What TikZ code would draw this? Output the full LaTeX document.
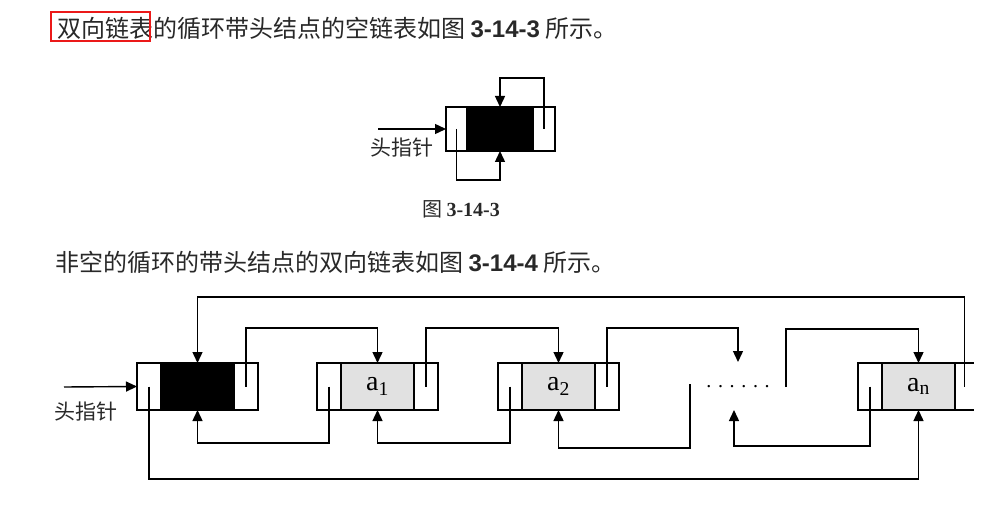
\documentclass[tikz,border=0pt]{standalone}
\usepackage{fontspec}
\setmainfont{Liberation Serif}
\setsansfont{Liberation Sans}
\newfontfamily\cjk{Noto Sans CJK SC}
\usepackage{tikz}
\usetikzlibrary{arrows.meta,positioning}
\definecolor{gray1}{RGB}{225,225,225}
\definecolor{red1}{RGB}{235,25,25}
\definecolor{ink1}{RGB}{40,40,40}
\tikzset{
  cell/.style={draw, line width=1.5pt, minimum width=24pt, minimum height=47pt, inner sep=0pt, outer sep=0pt},
  datacell/.style={cell, fill=gray1, minimum width=73pt, font=\fontsize{28}{28}\selectfont},
  headcell/.style={cell, fill=black, minimum width=73pt},
  ptr/.style={line width=1.4pt, -{Triangle[length=11pt,width=10pt]}},
  cnlabel/.style={font=\cjk\fontsize{21}{21}\selectfont, inner sep=0pt, text=ink1},
  cntext/.style={font=\cjk\fontsize{24}{24}\selectfont, inner sep=0pt, text=ink1},
}

\begin{document}
\begin{tikzpicture}[x=1pt,y=-1pt]
    \useasboundingbox (0,0) rectangle (1006,505);
    % Text lines
    \node[cntext, anchor=west] (line1) at (57,28) {双向链表的循环带头结点的空链表如图 \textsf{\textbf{3-14-3}} 所示。};
    \draw[red1, line width=1.4pt] (51,12) rectangle (150,41);
    \node[cntext, anchor=west] (line2) at (55,262) {非空的循环的带头结点的双向链表如图 \textsf{\textbf{3-14-4}} 所示。};
    % Empty list (fig 3-14-3)
    \node[cell, minimum width=21pt, minimum height=44pt] (el) at (456.5,129) {};
    \node[cell, fill=black, minimum width=66pt, minimum height=44pt, right=0pt of el] (ed) {};
    \node[cell, minimum width=22pt, minimum height=44pt, right=0pt of ed] (er) {};
    \coordinate (ein) at (378,129);
    \draw[ptr] (ein) -- (el.west);
    \node[cnlabel] (elab) at (402,148) {头指针};
    \draw[ptr] (er.center) -- (er.center |- 0,78) -| (ed.north);
    \draw[ptr] (el.center) -- (el.center |- 0,180) -| (ed.south);
    \node[cnlabel, font=\cjk\fontsize{20}{20}\selectfont] (cap) at (461,209) {图 {\rmfamily\bfseries 3-14-3}};
    % Head node
    \node[cell] (hl) at (149,386.5) {};
    \node[headcell, right=0pt of hl] (hd) {};
    \node[cell, right=0pt of hd] (hr) {};
    % Data nodes
    \node[cell] (a1l) at (329,386.5) {};
    \node[datacell, right=0pt of a1l] (a1d) {a\textsubscript{1}};
    \node[cell, right=0pt of a1d] (a1r) {};
    \node[cell] (a2l) at (510,386.5) {};
    \node[datacell, right=0pt of a2l] (a2d) {a\textsubscript{2}};
    \node[cell, right=0pt of a2d] (a2r) {};
    \node[cell] (anl) at (870,386.5) {};
    \node[datacell, right=0pt of anl] (and) {a\textsubscript{n}};
    \node[cell, draw=none, minimum width=19pt, right=0pt of and] (anr) {};
    \draw[line width=1.5pt] (anr.north west) -- (anr.north east) (anr.south west) -- (anr.south east);
    % Gap
    \node[inner sep=0pt, font=\fontsize{20}{20}\selectfont] (dots) at (738,387) {. . . . . .};
    \coordinate (gin) at (738,362);
    \coordinate (gout1) at (690,384);
    \coordinate (gout2) at (786,387);
    \coordinate (gback) at (734,410);
    % Head pointer
    \coordinate (hin) at (64,387);
    \draw[ptr] (hin) -- (hl.west);
    \node[cnlabel] (hlab) at (86,412) {头指针};
    % Next links
    \draw[ptr] (hr.center) -- (hr.center |- 0,328) -| (a1d.north);
    \draw[ptr] (a1r.center) -- (a1r.center |- 0,328) -| (a2d.north);
    \draw[ptr] (a2r.center) -- (a2r.center |- 0,328) -| (gin);
    \draw[ptr] (gout2) -- (gout2 |- 0,329) -| (and.north);
    \draw[ptr] (anr.center) -- (anr.center |- 0,297) -| (hd.north);
    % Prior links
    \draw[ptr] (a1l.center) -- (a1l.center |- 0,443) -| (hd.south);
    \draw[ptr] (a2l.center) -- (a2l.center |- 0,443) -| (a1d.south);
    \draw[ptr] (gout1) -- (gout1 |- 0,448) -| (a2d.south);
    \draw[ptr] (anl.center) -- (anl.center |- 0,446) -| (gback);
    \draw[ptr] (hl.center) -- (hl.center |- 0,479) -| (and.south);
\end{tikzpicture}
\end{document}
